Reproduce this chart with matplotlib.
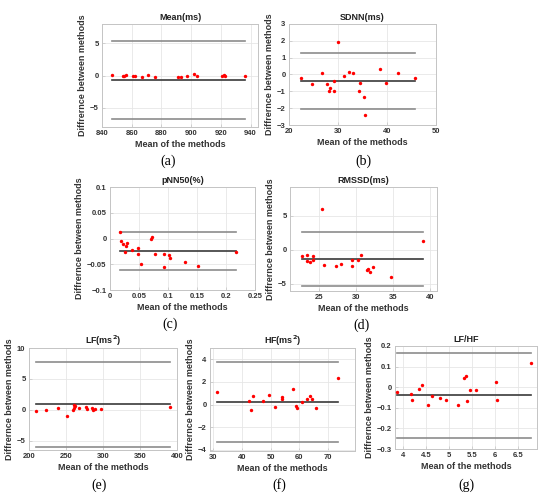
import matplotlib
matplotlib.use("Agg")
import matplotlib.pyplot as plt

plt.rcParams['font.family'] = ['Liberation Sans', 'DejaVu Sans']

# ---- data (Bland-Altman plots) ----
mean_x = [847, 854, 855, 856, 861, 862, 867, 871, 876, 891, 893, 897, 902, 904, 921, 922, 923, 936]
mean_y = [0.1, 0.0, -0.1, 0.1, -0.1, 0.0, -0.3, 0.1, -0.2, -0.3, -0.2, 0.0, 0.2, -0.1, 0.0, 0.1, -0.1, 0.0]
mean_lines = [-0.7, 5.3, -6.7]

sdnn_x = [22.45, 24.6, 26.8, 27.7, 28.1, 28.4, 29.1, 29.1, 30.0, 31.2, 32.3, 33.0, 34.2, 34.45,
          35.4, 35.5, 38.6, 39.7, 42.3, 45.8]
sdnn_y = [-0.22, -0.58, 0.1, -0.58, -1.0, -0.82, -0.36, -1.0, 1.92, -0.06, 0.12, 0.08, -0.96, -0.52,
          -1.36, -2.4, 0.34, -0.48, 0.08, -0.22]
sdnn_lines = [-0.38, 1.25, -2.02]

pnn_x = [0.017, 0.0193, 0.0216, 0.025, 0.0273, 0.030, 0.0375, 0.0477, 0.048, 0.053, 0.0705, 0.0716,
         0.0773, 0.093, 0.093, 0.101, 0.103, 0.129, 0.151, 0.2165]
pnn_y = [0.0123, -0.0052, -0.011, -0.0253, -0.0136, -0.0097, -0.0214, -0.0188, -0.030, -0.0487, 0.0,
         0.0026, -0.0292, -0.030, -0.055, -0.0325, -0.0377, -0.046, -0.054, -0.0253]
pnn_lines = [-0.024, 0.0123, -0.061]

rmssd_x = [22.7, 23.25, 23.3, 23.75, 24.1, 24.15, 25.3, 25.6, 27.3, 28.0, 29.4, 29.45, 30.25, 30.7,
           31.5, 31.6, 31.9, 32.3, 34.7, 39.05]
rmssd_y = [-0.99, -0.74, -1.68, -1.78, -0.94, -1.53, 5.94, -2.33, -2.48, -2.08, -1.58, -2.38, -1.49,
           -0.79, -3.07, -2.92, -3.27, -2.52, -4.06, 1.24]
rmssd_lines = [-1.4, 2.6, -5.4]

lf_x = [209, 223.5, 239.4, 250.7, 260.6, 260.6, 260.0, 262, 268, 277, 279, 285, 286.4, 289, 297, 391]
lf_y = [-0.16, 0.05, 0.27, -0.97, 0.7, 0.27, 0.05, 0.54, 0.27, 0.43, 0.1, 0.27, -0.05, 0.1, 0.1, 0.38]
lf_lines = [0.9, 7.8, -6.05]

hf_x = [31.2, 42.3, 43.3, 44.0, 47.2, 49.6, 51.5, 53.9, 54.0, 57.7, 58.9, 59.2, 60.9, 62.6, 63.8,
        64.3, 66.0, 73.6]
hf_y = [1.07, 0.3, -0.45, 0.78, 0.3, 0.87, -0.21, 0.63, 0.48, 1.34, -0.15, -0.27, 0.21, 0.51, 0.72,
        0.51, -0.3, 2.39]
hf_lines = [0.22, 3.73, -3.3]

ratio_x = [3.88, 4.17, 4.2, 4.35, 4.41, 4.54, 4.64, 4.8, 4.93, 5.21, 5.33, 5.37, 5.40, 5.47, 5.6,
           6.03, 6.06, 6.8]
ratio_y = [-0.025, -0.031, -0.064, -0.01, 0.0115, -0.087, -0.041, -0.051, -0.061, -0.086, 0.045,
           0.054, -0.066, -0.016, -0.012, 0.023, -0.061, 0.119]
ratio_lines = [-0.04, 0.165, -0.248]

W, H = 550, 498
fig = plt.figure(figsize=(W / 100, H / 100), dpi=100)


def add_panel(box, x, y, lines, title, xlim, ylim, xticks, yticks, xtl, ytl, tag, tagpos):
    l, t, r, b = box
    ax = fig.add_axes([l / W, 1 - b / H, (r - l) / W, (b - t) / H])
    ax.grid(True, color='#e6e6e6', lw=0.6)
    ax.set_axisbelow(True)
    x0, x1 = min(x), max(x)
    ax.plot([x0, x1], [lines[1], lines[1]], color='#8c8c8c', lw=1.2)
    ax.plot([x0, x1], [lines[2], lines[2]], color='#8c8c8c', lw=1.2)
    ax.plot([x0, x1], [lines[0], lines[0]], color='#3a3a3a', lw=1.2)
    ax.scatter(x, y, s=6, color='red', zorder=3, linewidths=0)
    ax.set_xlim(*xlim)
    ax.set_ylim(*ylim)
    ax.set_xticks(xticks)
    ax.set_yticks(yticks)
    ax.set_xticklabels(xtl)
    ax.set_yticklabels(ytl)
    for s in ax.spines.values():
        s.set_color('#c4c4c4')
        s.set_linewidth(0.7)
    ax.tick_params(direction='in', length=2, width=0.5, color='#c4c4c4',
                   labelsize=5.5, labelcolor='#333333', pad=2.5)
    for lab in ax.get_xticklabels() + ax.get_yticklabels():
        lab.set_fontweight('bold')
    ax.set_title(title, fontsize=6.5, fontweight='bold', pad=3, color='#222222')
    ax.set_xlabel('Mean of the methods', fontsize=6.5, fontweight='bold', labelpad=2,
                  color='#333333')
    ax.set_ylabel('Diffrernce between methods', fontsize=6.5, fontweight='bold', labelpad=2,
                  color='#333333')
    fig.text(tagpos[0] / W, 1 - tagpos[1] / H, tag, fontsize=10, family='Liberation Serif',
             ha='center', va='center')
    return ax


add_panel((102, 24, 258, 127), mean_x, mean_y, mean_lines, 'Mean(ms)',
          (840, 945), (-8, 8), [840, 860, 880, 900, 920, 940], [-5, 0, 5],
          ['840', '860', '880', '900', '920', '940'], ['\u22125', '0', '5'], '(a)', (168, 161))

add_panel((289, 24, 436, 125), sdnn_x, sdnn_y, sdnn_lines, 'SDNN(ms)',
          (20, 50), (-3, 3), [20, 30, 40, 50], [-3, -2, -1, 0, 1, 2, 3],
          ['20', '30', '40', '50'], ['\u22123', '\u22122', '\u22121', '0', '1', '2', '3'],
          '(b)', (363, 161))

add_panel((110, 187, 255, 290), pnn_x, pnn_y, pnn_lines, 'pNN50(%)',
          (0, 0.25), (-0.1, 0.1), [0, 0.05, 0.1, 0.15, 0.2, 0.25], [-0.1, -0.05, 0, 0.05, 0.1],
          ['0', '0.05', '0.1', '0.15', '0.2', '0.25'],
          ['\u22120.1', '\u22120.05', '0', '0.05', '0.1'], '(c)', (170, 324))

add_panel((290, 187, 437, 291), rmssd_x, rmssd_y, rmssd_lines, 'RMSSD(ms)',
          (21, 41), (-6.1, 9.2), [25, 30, 35, 40], [-5, 0, 5],
          ['25', '30', '35', '40'], ['\u22125', '0', '5'], '(d)', (362, 325))

add_panel((29, 348, 177, 450), lf_x, lf_y, lf_lines, 'LF(ms$^\\mathbf{2}$)',
          (200, 400), (-6.5, 10), [200, 250, 300, 350, 400], [-5, 0, 5, 10],
          ['200', '250', '300', '350', '400'], ['\u22125', '0', '5', '10'], '(e)', (99, 485))

add_panel((210, 348, 355, 451), hf_x, hf_y, hf_lines, 'HF(ms$^\\mathbf{2}$)',
          (28.8, 79.5), (-4.1, 5), [30, 40, 50, 60, 70], [-4, -2, 0, 2, 4],
          ['30', '40', '50', '60', '70'], ['\u22124', '\u22122', '0', '2', '4'], '(f)', (279, 485))

add_panel((395, 346, 537, 449), ratio_x, ratio_y, ratio_lines, 'LF/HF',
          (3.83, 6.92), (-0.3, 0.2), [4, 4.5, 5, 5.5, 6, 6.5], [-0.3, -0.2, -0.1, 0, 0.1, 0.2],
          ['4', '4.5', '5', '5.5', '6', '6.5'],
          ['\u22120.3', '\u22120.2', '\u22120.1', '0', '0.1', '0.2'], '(g)', (466, 485))

fig.savefig('out.png', dpi=100)
